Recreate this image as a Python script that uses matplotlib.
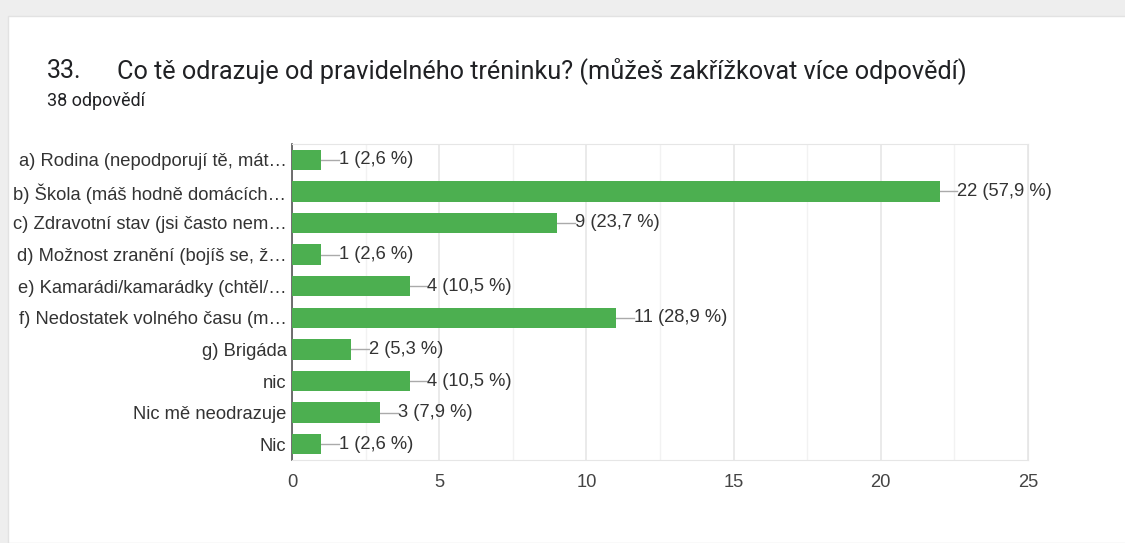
import matplotlib.pyplot as plt
from matplotlib.patches import Rectangle
import numpy as np

plt.rcParams['font.family'] = ['Liberation Sans', 'DejaVu Sans']

labels = [
    'a) Rodina (nepodporují tě, mát…',
    'b) Škola (máš hodně domácích…',
    'c) Zdravotní stav (jsi často nem…',
    'd) Možnost zranění (bojíš se, ž…',
    'e) Kamarádi/kamarádky (chtěl/…',
    'f) Nedostatek volného času (m…',
    'g) Brigáda',
    'nic',
    'Nic mě neodrazuje',
    'Nic',
]
counts = [1, 22, 9, 1, 4, 11, 2, 4, 3, 1]
percents = ['2,6', '57,9', '23,7', '2,6', '10,5', '28,9', '5,3', '10,5', '7,9', '2,6']
xticks = [0, 5, 10, 15, 20, 25]

green = '#4caf50'
text_col = '#333333'

fig = plt.figure(figsize=(11.25, 5.43), dpi=100)
fig.patch.set_facecolor('#eeeeee')

# white card on the grey page
W, H = 1125, 543
card = Rectangle((8 / W, 0), 1, 1 - 16 / H, transform=fig.transFigure,
                 facecolor='white', edgecolor='#e2e2e2', lw=1, zorder=-1)
fig.patches.append(card)

fig.text(47 / W, 1 - 78 / H, '33.', fontsize=18, color='#202124',
         family='Roboto', va='baseline')
fig.text(117 / W, 1 - 78 / H,
         'Co tě odrazuje od pravidelného tréninku? (můžeš zakřížkovat více odpovědí)',
         fontsize=18.2, color='#202124', family='Roboto', va='baseline')
fig.text(47 / W, 1 - 106 / H, '38 odpovědí', fontsize=13, color='#202124',
         family='Roboto', va='baseline')

ax = fig.add_axes([292 / W, 1 - 460 / H, (1028 - 292) / W, (460 - 144) / H])
y = np.arange(len(labels))
ax.barh(y, counts, height=0.64, color=green, zorder=3)
ax.set_ylim(len(labels) - 0.5, -0.5)
ax.set_xlim(0, 25)

for yi, c, p in zip(y, counts, percents):
    ax.plot([c, c + 0.6], [yi, yi], color='#aaaaaa', lw=1, zorder=2)
    ax.text(c + 0.6, yi, f'{c} ({p} %)', va='center', ha='left',
            fontsize=13.2, color=text_col, zorder=4)

ax.set_xticks(xticks)
ax.set_xticks(np.arange(2.5, 25, 5), minor=True)
ax.grid(axis='x', which='major', color='#e6e6e6', lw=1.2, zorder=0)
ax.grid(axis='x', which='minor', color='#f2f2f2', lw=1, zorder=0)
ax.set_yticks(y)
ax.set_yticklabels(labels)
ax.tick_params(axis='both', which='both', length=0, labelsize=13.2,
               colors='#444444')
ax.tick_params(axis='x', pad=10)
ax.tick_params(axis='y', pad=4)
for lab in ax.get_yticklabels():
    lab.set_color(text_col)

for side in ['top', 'right', 'bottom']:
    ax.spines[side].set_color('#e6e6e6')
ax.spines['left'].set_color('#555555')
ax.spines['left'].set_linewidth(1.2)

fig.savefig('out.png', dpi=100)
